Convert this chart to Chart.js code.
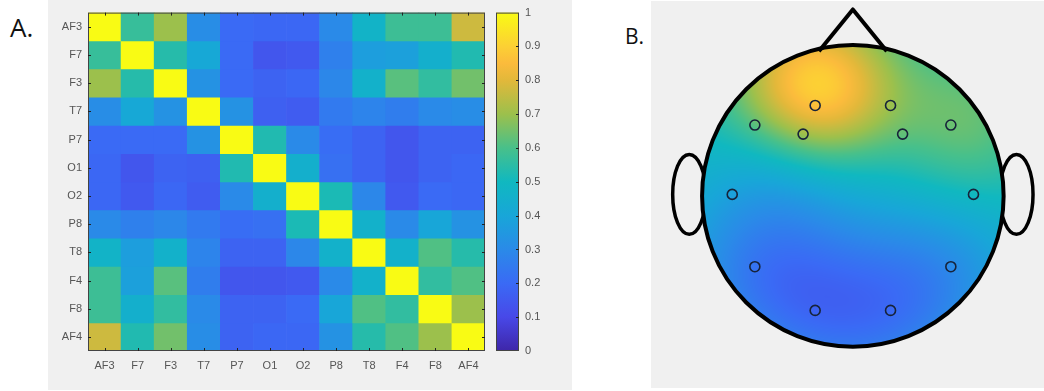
<!DOCTYPE html>
<html>
<head>
<meta charset="utf-8">
<script src="https://cdn.jsdelivr.net/npm/chart.js@4.4.0/dist/chart.umd.min.js"></script>
<style>
  html, body { margin: 0; padding: 0; background: #fff; }
  body { width: 1044px; height: 391px; position: relative; overflow: hidden; }
  .panel { position: absolute; background: #f0f0f0; }
  .tag { position: absolute; font-family: 'Open Sans', sans-serif; color: #111; line-height: 1; }
  canvas { position: absolute; }
</style>
</head>
<body>
<div class="tag" style="left:10px; top:14px; font-size:26px;">A.</div>
<div class="panel" style="left:48px; top:0; width:524px; height:390px;"></div>
<div class="tag" style="left:625px; top:26px; font-size:21px;">B.</div>
<div class="panel" style="left:651px; top:1px; width:393px; height:387px;"></div>

<canvas id="matrix" width="440" height="390" style="left:48px; top:0;"></canvas>
<canvas id="cbar" width="82" height="390" style="left:490px; top:0;"></canvas>
<canvas id="topo" width="393" height="388" style="left:651px; top:0;"></canvas>

<script>
// ─── data ────────────────────────────────────────────────────────────────
const CHANNELS = ['AF3', 'F7', 'F3', 'T7', 'P7', 'O1', 'O2', 'P8', 'T8', 'F4', 'F8', 'AF4'];

// channel-by-channel correlation (rows/cols follow CHANNELS)
const CORR = [
  [1.00, 0.57, 0.70, 0.31, 0.20, 0.19, 0.19, 0.30, 0.47, 0.58, 0.58, 0.77], // AF3
  [0.57, 1.00, 0.54, 0.41, 0.20, 0.14, 0.15, 0.27, 0.37, 0.38, 0.45, 0.53], // F7
  [0.70, 0.54, 1.00, 0.33, 0.20, 0.18, 0.19, 0.29, 0.46, 0.62, 0.56, 0.65], // F3
  [0.31, 0.41, 0.33, 1.00, 0.33, 0.17, 0.16, 0.25, 0.28, 0.26, 0.30, 0.31], // T7
  [0.20, 0.20, 0.20, 0.33, 1.00, 0.53, 0.30, 0.21, 0.18, 0.14, 0.18, 0.18], // P7
  [0.19, 0.14, 0.18, 0.17, 0.53, 1.00, 0.45, 0.22, 0.18, 0.14, 0.18, 0.19], // O1
  [0.19, 0.15, 0.19, 0.16, 0.30, 0.45, 1.00, 0.52, 0.29, 0.15, 0.20, 0.19], // O2
  [0.30, 0.27, 0.29, 0.25, 0.21, 0.22, 0.52, 1.00, 0.46, 0.30, 0.40, 0.33], // P8
  [0.47, 0.37, 0.46, 0.28, 0.18, 0.18, 0.29, 0.46, 1.00, 0.46, 0.61, 0.54], // T8
  [0.58, 0.38, 0.62, 0.26, 0.14, 0.14, 0.15, 0.30, 0.46, 1.00, 0.56, 0.61], // F4
  [0.58, 0.45, 0.56, 0.30, 0.18, 0.18, 0.20, 0.40, 0.61, 0.56, 1.00, 0.70], // F8
  [0.77, 0.53, 0.65, 0.31, 0.18, 0.19, 0.19, 0.33, 0.54, 0.61, 0.70, 1.00], // AF4
];

const CBAR_RANGE = [0, 1];
const CBAR_TICKS = [0, 0.1, 0.2, 0.3, 0.4, 0.5, 0.6, 0.7, 0.8, 0.9, 1];

// electrode layout on the unit head (nose up), same order as CHANNELS
const ELEC_X = [-0.25, -0.65, -0.33, -0.80, -0.65, -0.25, 0.25, 0.65, 0.80, 0.33, 0.65, 0.25];
const ELEC_Y = [ 0.60,  0.47,  0.41,  0.01, -0.47, -0.76, -0.76, -0.47, 0.01, 0.41, 0.47, 0.60];
const TOPO   = [ 0.86,  0.62,  0.70,  0.38,  0.23,  0.18,  0.20,  0.30, 0.50, 0.63, 0.64, 0.70];

// ─── colormap (parula-like) ────────────────────────────────────────────────
const PARULA = [
  [0.00, '#3e26a8'], [0.10, '#4848e8'], [0.20, '#3a6af5'], [0.30, '#2a8ae8'],
  [0.40, '#18a6d8'], [0.50, '#10b8c0'], [0.60, '#48c08a'], [0.70, '#9cc04c'],
  [0.80, '#e2b83a'], [0.85, '#fbbb3c'], [0.90, '#fcd034'], [1.00, '#f9fb14'],
];
const PARULA_RGB = PARULA.map(([t, h]) => [t, [1, 3, 5].map(i => parseInt(h.substr(i, 2), 16))]);

function parulaRGB(v) {
  v = Math.max(0, Math.min(1, v));
  for (let i = 1; i < PARULA_RGB.length; i++) {
    const [t1, c1] = PARULA_RGB[i];
    if (v <= t1) {
      const [t0, c0] = PARULA_RGB[i - 1];
      const f = (v - t0) / (t1 - t0);
      return c0.map((c, k) => Math.round(c + (c1[k] - c) * f));
    }
  }
  return PARULA_RGB[PARULA_RGB.length - 1][1];
}
const parula = v => `rgb(${parulaRGB(v).join(',')})`;

const TXT = { color: '#555', font: { family: "'Liberation Sans', Arial, sans-serif", size: 11 } };
const NO_GRID = { display: false, drawTicks: false };

// axes box with inward tick marks (MATLAB look)
function framePlugin(getTicks) {
  return {
    id: 'frame',
    afterDatasetsDraw(chart) {
      const { ctx, chartArea: a } = chart;
      const t = getTicks(chart);
      ctx.save();
      ctx.strokeStyle = '#444';
      ctx.lineWidth = 1;
      ctx.strokeRect(a.left + 0.5, a.top + 0.5, a.width - 1, a.height - 1);
      ctx.strokeStyle = '#222';
      ctx.beginPath();
      (t.x || []).forEach(px => {
        px = Math.round(px) + 0.5;
        ctx.moveTo(px, a.top); ctx.lineTo(px, a.top + 3);
        ctx.moveTo(px, a.bottom); ctx.lineTo(px, a.bottom - 3);
      });
      (t.y || []).forEach(py => {
        py = Math.round(py) + 0.5;
        if (t.left !== false) { ctx.moveTo(a.left, py); ctx.lineTo(a.left + 3, py); }
        ctx.moveTo(a.right, py); ctx.lineTo(a.right - 3, py);
      });
      ctx.stroke();
      ctx.restore();
    },
  };
}

// ─── A: correlation matrix ───────────────────────────────────────────────
new Chart(document.getElementById('matrix'), {
  type: 'bar',
  data: {
    labels: CHANNELS,
    datasets: CORR.map((row, r) => ({
      label: CHANNELS[r],
      data: row.map(() => 1),
      backgroundColor: row.map(parula),
      borderWidth: 0,
      barPercentage: 1,
      categoryPercentage: 1,
    })),
  },
  options: {
    responsive: false,
    animation: false,
    layout: { padding: { top: 2, right: 3, left: 0, bottom: 0 } },
    plugins: { legend: { display: false }, tooltip: { enabled: false } },
    scales: {
      x: {
        stacked: true,
        grid: NO_GRID, border: { display: false },
        ticks: { ...TXT, padding: 8, autoSkip: false, maxRotation: 0 },
        afterFit: s => { s.height = 39; },
      },
      y: {
        stacked: true, min: 0, max: CHANNELS.length, reverse: true,
        grid: NO_GRID, border: { display: false },
        afterBuildTicks: s => { s.ticks = CHANNELS.map((_, i) => ({ value: i + 0.5 })); },
        ticks: { ...TXT, padding: 6, autoSkip: false, callback: (v, i) => CHANNELS[i] },
        afterFit: s => { s.width = 40; },
      },
    },
  },
  plugins: [framePlugin(c => ({
    x: CHANNELS.map((_, i) => c.scales.x.getPixelForValue(i)),
    y: CHANNELS.map((_, i) => c.scales.y.getPixelForValue(i + 0.5)),
  }))],
});

// ─── A: colorbar ─────────────────────────────────────────────────────────
new Chart(document.getElementById('cbar'), {
  type: 'bar',
  data: {
    labels: [''],
    datasets: [{
      data: [CBAR_RANGE],
      barPercentage: 1,
      categoryPercentage: 1,
      borderWidth: 0,
      backgroundColor: c => {
        const { chartArea: a, ctx } = c.chart;
        if (!a) return null;
        const g = ctx.createLinearGradient(0, a.bottom, 0, a.top);
        PARULA.forEach(([t, h]) => g.addColorStop(t, h));
        return g;
      },
    }],
  },
  options: {
    responsive: false,
    animation: false,
    layout: { padding: { top: 2, left: 6, right: 0, bottom: 39 } },
    plugins: { legend: { display: false }, tooltip: { enabled: false } },
    scales: {
      x: { display: false },
      y: {
        position: 'right', min: CBAR_RANGE[0], max: CBAR_RANGE[1],
        grid: NO_GRID, border: { display: false },
        afterBuildTicks: s => { s.ticks = CBAR_TICKS.map(v => ({ value: v })); },
        ticks: { ...TXT, padding: 6, callback: v => String(v) },
        afterFit: s => { s.width = 53; },
      },
    },
  },
  plugins: [framePlugin(c => ({
    left: false,
    y: CBAR_TICKS.slice(1, -1).map(v => c.scales.y.getPixelForValue(v)),
  }))],
});

// ─── B: topographic map ──────────────────────────────────────────────────
// gaussian RBF interpolation around the mean of the electrode values
function rbfField(xs, ys, vs, sigma) {
  const n = xs.length;
  const mean = vs.reduce((a, b) => a + b, 0) / n;
  const g = d => Math.exp(-(d * d) / (sigma * sigma));
  const M = xs.map((x, i) => [...xs.map((x2, j) => g(Math.hypot(x - x2, ys[i] - ys[j]))), vs[i] - mean]);
  for (let k = 0; k < n; k++) {
    let p = k;
    for (let i = k + 1; i < n; i++) if (Math.abs(M[i][k]) > Math.abs(M[p][k])) p = i;
    [M[k], M[p]] = [M[p], M[k]];
    for (let i = k + 1; i < n; i++) {
      const f = M[i][k] / M[k][k];
      for (let j = k; j <= n; j++) M[i][j] -= f * M[k][j];
    }
  }
  const w = new Array(n).fill(0);
  for (let i = n - 1; i >= 0; i--) {
    let s = M[i][n];
    for (let j = i + 1; j < n; j++) s -= M[i][j] * w[j];
    w[i] = s / M[i][i];
  }
  return (x, y) => {
    let s = mean;
    for (let i = 0; i < n; i++) s += w[i] * g(Math.hypot(x - xs[i], y - ys[i]));
    return s;
  };
}

const headPlugin = {
  id: 'head',
  beforeDatasetsDraw(chart) {
    const { ctx, scales: { x: sx, y: sy } } = chart;
    const cx = sx.getPixelForValue(0), cy = sy.getPixelForValue(0);
    const r = sx.getPixelForValue(1) - cx;
    const P = (x, y) => [sx.getPixelForValue(x), sy.getPixelForValue(y)];

    ctx.save();
    ctx.strokeStyle = '#000';
    ctx.lineJoin = 'round';

    // ears
    ctx.lineWidth = 3.5;
    [-1.085, 1.085].forEach(ex => {
      const [px, py] = P(ex, 0.01);
      ctx.beginPath();
      ctx.ellipse(px, py, 0.11 * r, 0.265 * r, 0, 0, Math.PI * 2);
      ctx.stroke();
    });

    // interpolated field
    const f = rbfField(ELEC_X, ELEC_Y, TOPO, 0.55);
    const x0 = Math.floor(cx - r - 2), y0 = Math.floor(cy - r - 2);
    const size = Math.ceil(2 * r + 4);
    const off = document.createElement('canvas');
    off.width = size; off.height = size;
    const octx = off.getContext('2d');
    const img = octx.createImageData(size, size);
    for (let j = 0; j < size; j++) {
      for (let i = 0; i < size; i++) {
        const px = x0 + i + 0.5, py = y0 + j + 0.5;
        if (Math.hypot(px - cx, py - cy) > r + 1.5) continue;
        const rgb = parulaRGB(f(sx.getValueForPixel(px), sy.getValueForPixel(py)));
        const k = (j * size + i) * 4;
        img.data[k] = rgb[0]; img.data[k + 1] = rgb[1]; img.data[k + 2] = rgb[2]; img.data[k + 3] = 255;
      }
    }
    octx.putImageData(img, 0, 0);
    ctx.save();
    ctx.beginPath();
    ctx.arc(cx, cy, r, 0, Math.PI * 2);
    ctx.clip();
    ctx.drawImage(off, x0, y0);
    ctx.restore();

    // outline + nose
    ctx.lineWidth = 4;
    ctx.beginPath();
    ctx.arc(cx, cy, r, 0, Math.PI * 2);
    ctx.stroke();
    ctx.beginPath();
    ctx.moveTo(...P(-0.225, 0.96));
    ctx.lineTo(...P(0, 1.237));
    ctx.lineTo(...P(0.225, 0.96));
    ctx.stroke();
    ctx.restore();
  },
};

new Chart(document.getElementById('topo'), {
  type: 'scatter',
  data: {
    datasets: [{
      data: ELEC_X.map((x, i) => ({ x, y: ELEC_Y[i] })),
      pointStyle: 'circle',
      pointRadius: 5,
      borderWidth: 1.6,
      borderColor: '#17233a',
      backgroundColor: 'rgba(0,0,0,0)',
    }],
  },
  options: {
    responsive: false,
    animation: false,
    layout: { padding: 0 },
    plugins: { legend: { display: false }, tooltip: { enabled: false } },
    scales: {
      x: { display: false, min: -1.295, max: 1.224 },
      y: { display: false, min: -1.231, max: 1.256 },
    },
  },
  plugins: [headPlugin],
});
</script>
</body>
</html>
